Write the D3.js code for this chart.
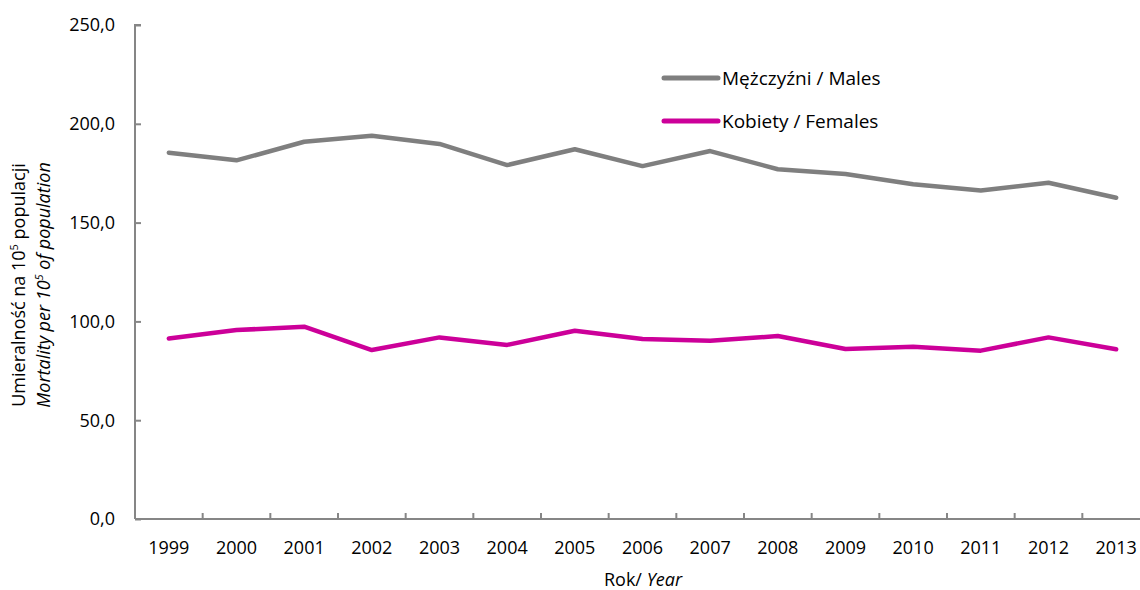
<!DOCTYPE html>
<html>
<head>
<meta charset="utf-8">
<script src="https://cdn.jsdelivr.net/npm/d3@7"></script>
<style>
  body { margin: 0; background: #fff; }
  svg text { font-family: "Open Sans", Lato, sans-serif; fill: #000; }
</style>
</head>
<body>
<svg id="chart"></svg>
<script>
// Data.
const years = ['1999', '2000', '2001', '2002', '2003', '2004', '2005', '2006', '2007', '2008', '2009', '2010', '2011', '2012', '2013'];
const males = [185.4, 181.5, 190.9, 194.0, 189.8, 179.1, 187.1, 178.6, 186.2, 177.0, 174.6, 169.4, 166.2, 170.2, 162.6];
const females = [91.4, 95.6, 97.3, 85.5, 91.9, 88.1, 95.3, 91.1, 90.2, 92.6, 86.0, 87.2, 85.2, 91.9, 85.9];
const yTicks = [0, 50, 100, 150, 200, 250];
const seriesNames = ['Mężczyźni / Males', 'Kobiety / Females'];

const COLORS = ['#7f7f7f', '#cc0099'];
const AXIS_COLOR = '#868686';

const width = 1140;
const height = 590;
const margin = { top: 25, right: -10, bottom: 71, left: 135 };

const svg = d3.select('#chart')
    .attr('width', width)
    .attr('height', height);

const xScale = d3.scaleBand()
    .domain(years)
    .range([margin.left, width - margin.right]);

const yScale = d3.scaleLinear()
    .domain([0, 250])
    .range([height - margin.bottom, margin.top]);

const fmt = (d) => d3.format('.1f')(d).replace('.', ',');

// y axis
const yAxis = svg.append('g')
    .attr('transform', `translate(${margin.left},0)`)
    .call(d3.axisRight(yScale).tickValues(yTicks).tickSize(6).tickFormat(''));
yAxis.select('.domain').attr('stroke', AXIS_COLOR).attr('stroke-width', 2)
    .attr('d', `M6,${yScale(250)}H0V${yScale(0)}`);
yAxis.selectAll('.tick line').attr('stroke', AXIS_COLOR).attr('stroke-width', 2);

svg.append('g')
    .selectAll('text')
    .data(yTicks)
    .enter()
    .append('text')
    .attr('x', 115)
    .attr('y', (d) => yScale(d))
    .attr('dy', '0.35em')
    .attr('text-anchor', 'end')
    .style('font-size', '18px')
    .text(fmt);

// x axis
const xBase = yScale(0);
const xAxis = svg.append('g')
    .attr('transform', `translate(0,${xBase})`);
xAxis.append('path')
    .attr('d', `M${margin.left},0H${width}`)
    .attr('stroke', AXIS_COLOR)
    .attr('stroke-width', 2)
    .attr('fill', 'none');
xAxis.selectAll('.xtick')
    .data(years.slice(1))
    .enter()
    .append('line')
    .attr('class', 'xtick')
    .attr('x1', (d) => xScale(d))
    .attr('x2', (d) => xScale(d))
    .attr('y1', 0)
    .attr('y2', -6)
    .attr('stroke', AXIS_COLOR)
    .attr('stroke-width', 2);
xAxis.selectAll('.xlabel')
    .data(years)
    .enter()
    .append('text')
    .attr('class', 'xlabel')
    .attr('x', (d) => xScale(d) + xScale.bandwidth() / 2)
    .attr('y', 35)
    .attr('text-anchor', 'middle')
    .style('font-size', '18px')
    .text((d) => d);

// axis titles
const xTitle = svg.append('text')
    .attr('x', 643)
    .attr('y', 586)
    .attr('text-anchor', 'middle')
    .style('font-size', '18px');
xTitle.append('tspan').text('Rok/ ');
xTitle.append('tspan').style('font-style', 'italic').text('Year');

const yTitle = svg.append('g')
    .attr('transform', 'translate(0,285) rotate(-90)');
const t1 = yTitle.append('text')
    .attr('x', 0)
    .attr('y', 25)
    .attr('text-anchor', 'middle')
    .style('font-size', '18px');
t1.append('tspan').text('Umieralność na 10');
t1.append('tspan').attr('dy', -7).style('font-size', '11px').text('5');
t1.append('tspan').attr('dy', 7).text('  populacji');
const t2 = yTitle.append('text')
    .attr('x', 0)
    .attr('y', 50)
    .attr('text-anchor', 'middle')
    .style('font-size', '18px')
    .style('font-style', 'italic');
t2.append('tspan').text('Mortality per 10');
t2.append('tspan').attr('dy', -7).style('font-size', '11px').text('5');
t2.append('tspan').attr('dy', 7).text('  of population');

// lines
const line = d3.line()
    .x((d, i) => xScale(years[i]) + xScale.bandwidth() / 2)
    .y((d) => yScale(d));

[males, females].forEach((values, i) => {
  svg.append('path')
      .datum(values)
      .attr('fill', 'none')
      .attr('stroke', COLORS[i])
      .attr('stroke-width', 4.5)
      .attr('stroke-linejoin', 'round')
      .attr('stroke-linecap', 'round')
      .attr('d', line);
});

// legend
const legend = svg.append('g');
const legendY = [78, 121];
legend.selectAll('line')
    .data(seriesNames)
    .enter()
    .append('line')
    .attr('x1', 664)
    .attr('x2', 718)
    .attr('y1', (d, i) => legendY[i])
    .attr('y2', (d, i) => legendY[i])
    .attr('stroke', (d, i) => COLORS[i])
    .attr('stroke-width', 5)
    .attr('stroke-linecap', 'round');
legend.selectAll('text')
    .data(seriesNames)
    .enter()
    .append('text')
    .attr('x', 722)
    .attr('y', (d, i) => legendY[i])
    .attr('dy', '0.35em')
    .style('font-size', '19px')
    .text((d) => d);
</script>
</body>
</html>
